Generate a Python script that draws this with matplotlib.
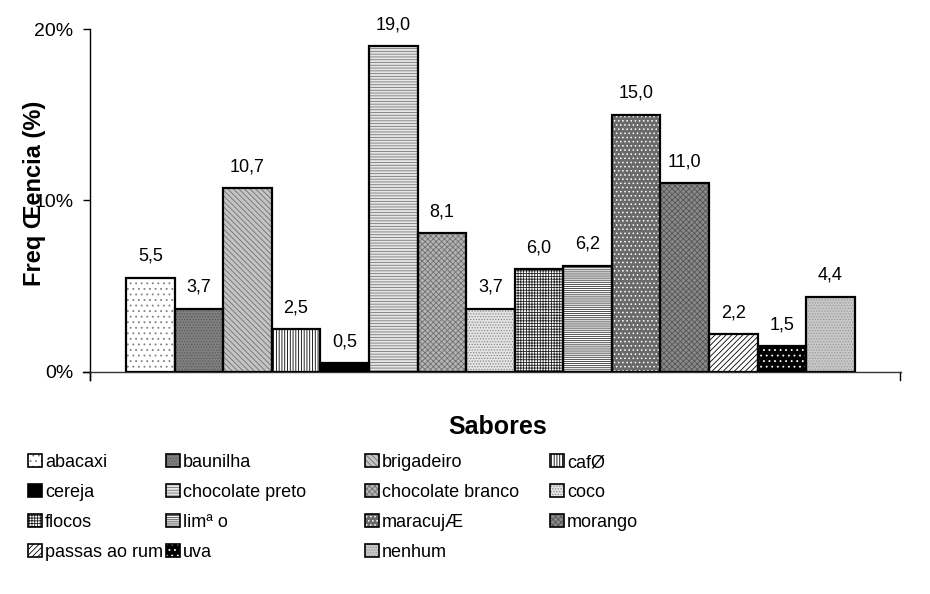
import numpy as np
import matplotlib.pyplot as plt
from matplotlib.patches import Patch, Rectangle
from matplotlib.legend_handler import HandlerBase

plt.rcParams['font.family'] = ['Liberation Sans', 'DejaVu Sans']
plt.rcParams['hatch.linewidth'] = 0.6

sabores = ['abacaxi', 'baunilha', 'brigadeiro', 'cafØ', 'cereja',
           'chocolate preto', 'chocolate branco', 'coco', 'flocos', 'limª o',
           'maracujÆ', 'morango', 'passas ao rum', 'uva', 'nenhum']
freq = [5.5, 3.7, 10.7, 2.5, 0.5, 19.0, 8.1, 3.7, 6.0, 6.2, 15.0, 11.0, 2.2, 1.5, 4.4]

# fill colour, hatch pattern, hatch colour for each flavour
fills = ['white', '#808080', '#c4c4c4', 'white', 'black',
         '#e6e6e6', '#b4b4b4', '#e4e4e4', 'white', 'white',
         '#6a6a6a', '#8a8a8a', 'white', 'black', '#c8c8c8']
hatches = ['...', '......', '\\\\\\\\\\\\', '||||||', '',
           '------', 'xxxxxx', '......', '++++++', '--------',
           '....', 'xxxxxx', '//////', '...', '......']
hcolors = ['#808080', '#5a5a5a', '#707070', 'black', 'black',
           '#777777', '#707070', '#888888', '#222222', '#333333',
           'white', '#555555', 'black', 'white', '#9a9a9a']


class OutlinedPatch(HandlerBase):
    # hatched swatch with a black frame on top
    def create_artists(self, legend, orig, xd, yd, w, h, fontsize, trans):
        inner = Rectangle((-xd, -yd), w, h, facecolor=orig.get_facecolor(),
                          hatch=orig.get_hatch(), edgecolor=orig.get_edgecolor(),
                          linewidth=0, transform=trans)
        frame = Rectangle((-xd, -yd), w, h, fill=False, edgecolor='black',
                          linewidth=1.2, transform=trans)
        return [inner, frame]


fig = plt.figure(figsize=(9.3, 5.94), dpi=100)
ax = fig.add_axes([90 / 930, 1 - 372 / 594, 811 / 930, 343 / 594])

x = np.arange(len(freq))
for i in range(len(freq)):
    ax.bar(x[i], freq[i], width=1.0, color=fills[i], hatch=hatches[i],
           edgecolor=hcolors[i], linewidth=0, zorder=2)
ax.bar(x, freq, width=1.0, fill=False, edgecolor='black', linewidth=1.6, zorder=3)

for xi, v in zip(x, freq):
    ax.text(xi, v + 0.75, f'{v:.1f}'.replace('.', ','), ha='center', va='bottom',
            fontsize=13)

ax.set_xlim(-1.24, 15.45)
ax.set_ylim(0, 20)
ax.set_yticks([0, 10, 20])
ax.set_yticklabels(['0%', '10%', '20%'], fontsize=14)
ax.set_xticks([])
ax.tick_params(axis='y', length=5, width=1, pad=7)
for s in ['top', 'right']:
    ax.spines[s].set_visible(False)
ax.spines['left'].set_linewidth(1)
ax.spines['bottom'].set_linewidth(1)
ax.spines['bottom'].set_color('#333333')
ax.spines['left'].set_bounds(-0.45, 20)
# end ticks below the category axis
ax.plot([-1.24, -1.24], [0, -0.45], color='black', lw=1, clip_on=False)
ax.plot([15.43, 15.43], [0, -0.45], color='black', lw=1, clip_on=False)
ax.plot([-1.38, -1.24], [0, 0], color='black', lw=1, clip_on=False)

ax.set_ylabel('Freq Œencia (%)', fontsize=17, fontweight='bold')
ax.yaxis.set_label_coords(-0.054, 0.52)
fig.text(498 / 930, 1 - 427 / 594, 'Sabores', ha='center', va='center',
         fontsize=18, fontweight='bold')

handles = [Patch(facecolor=fills[i], hatch=hatches[i], edgecolor=hcolors[i])
           for i in range(len(freq))]
col_x = [28, 166, 365, 550]
for c in range(4):
    idx = list(range(c, len(freq), 4))
    fig.legend([handles[i] for i in idx], [sabores[i] for i in idx],
               loc='upper left', bbox_to_anchor=(col_x[c] / 930, 1 - 454 / 594),
               frameon=False, fontsize=13,
               handlelength=0.75, handleheight=0.75, handletextpad=0.2,
               labelspacing=0.72, borderpad=0, borderaxespad=0,
               handler_map={Patch: OutlinedPatch()})

fig.savefig('out.png', dpi=100)
